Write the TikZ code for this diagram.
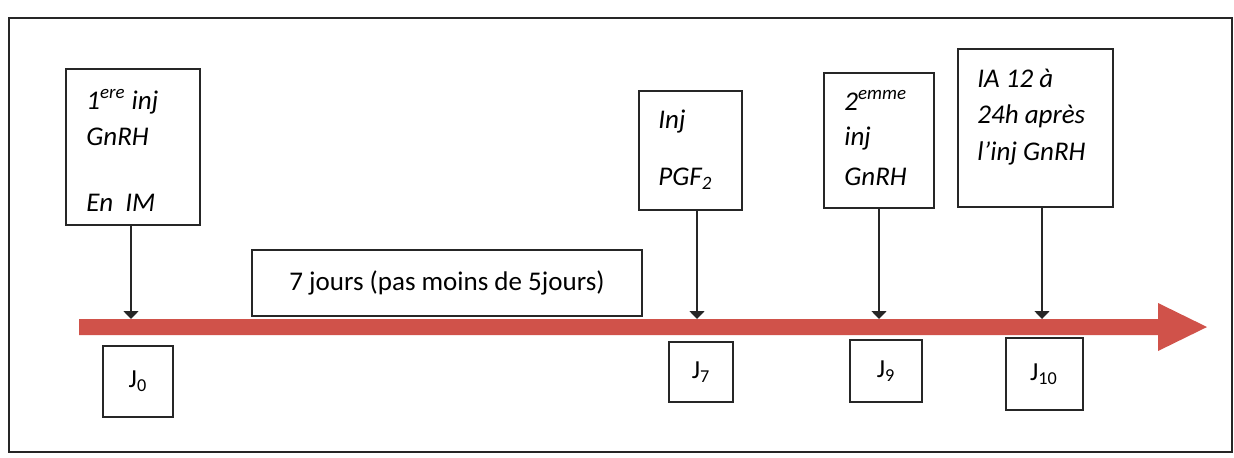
\documentclass[tikz,border=0pt]{standalone}
\usepackage{fontspec}
\setmainfont{Carlito}
\usetikzlibrary{arrows.meta}
\definecolor{barred}{RGB}{208,82,74}
\begin{document}
\begin{tikzpicture}[x=0.5pt,y=-0.5pt,
  frame/.style={draw=black!85,line width=1pt},
  boxframe/.style={draw=black!85,line width=1pt,inner sep=0pt,anchor=north west},
  lbl/.style={anchor=base west,inner sep=0pt,font=\fontsize{13.5}{16}\selectfont\itshape},
  jlbl/.style={inner sep=0pt,font=\fontsize{13}{16}\selectfont},
  conn/.style={draw=black!85,line width=0.8pt,-{Triangle[width=7.5pt,length=4pt]}}]
\useasboundingbox (0,0) rectangle (1234,457);
\draw[frame] (9,18) rectangle (1232,452);
% main timeline arrow
\fill[barred] (79,319) -- (1158,319) -- (1158,303) -- (1207,327) -- (1158,351) -- (1158,335) -- (79,335) -- cycle;
\coordinate (bartop) at (0,319);
% event boxes
\node[boxframe,minimum width=67pt,minimum height=78pt] (b1) at (65,68) {};
\node[boxframe,minimum width=51.5pt,minimum height=59.5pt] (b2) at (638,90) {};
\node[boxframe,minimum width=55pt,minimum height=67.5pt] (b3) at (823,72) {};
\node[boxframe,minimum width=77.5pt,minimum height=79pt] (b4) at (957,48) {};
% texts
\node[lbl] (t11) at (86,109) {1\textsuperscript{ere} inj};
\node[lbl] (t12) at (86,145) {GnRH};
\node[lbl] (t13) at (86,211) {En\ \ IM};
\node[lbl] (t21) at (658,128) {Inj};
\node[lbl] (t22) at (658,185) {PGF\textsubscript{2}};
\node[lbl] (t31) at (844,110) {2\textsuperscript{emme}};
\node[lbl] (t32) at (844,145) {inj};
\node[lbl] (t33) at (844,185) {GnRH};
\node[lbl] (t41) at (977,87) {IA 12 à};
\node[lbl] (t42) at (977,123) {24h après};
\node[lbl] (t43) at (977,160) {l’inj GnRH};
% duration box
\node[draw=black!85,line width=1pt,minimum width=195pt,minimum height=33pt,font=\fontsize{13.5}{16}\selectfont] (dur) at (447,283) {7 jours (pas moins de 5jours)};
% day boxes
\node[draw=black!85,line width=1pt,minimum width=35pt,minimum height=35.5pt,jlbl] (j0) at (138,381) {J\textsubscript{0}};
\node[draw=black!85,line width=1pt,minimum width=32pt,minimum height=30pt,jlbl] (j7) at (701,372) {J\textsubscript{7}};
\node[draw=black!85,line width=1pt,minimum width=36pt,minimum height=31pt,jlbl] (j9) at (886,371) {J\textsubscript{9}};
\node[draw=black!85,line width=1pt,minimum width=38.5pt,minimum height=36pt,jlbl] (j10) at (1044,374) {J\textsubscript{10}};
% connectors
\draw[conn] (b1.south -| 131,0) -- (131,0 |- bartop);
\draw[conn] (b2.south -| 697,0) -- (697,0 |- bartop);
\draw[conn] (b3.south -| 879,0) -- (879,0 |- bartop);
\draw[conn] (b4.south -| 1042,0) -- (1042,0 |- bartop);
\end{tikzpicture}
\end{document}
